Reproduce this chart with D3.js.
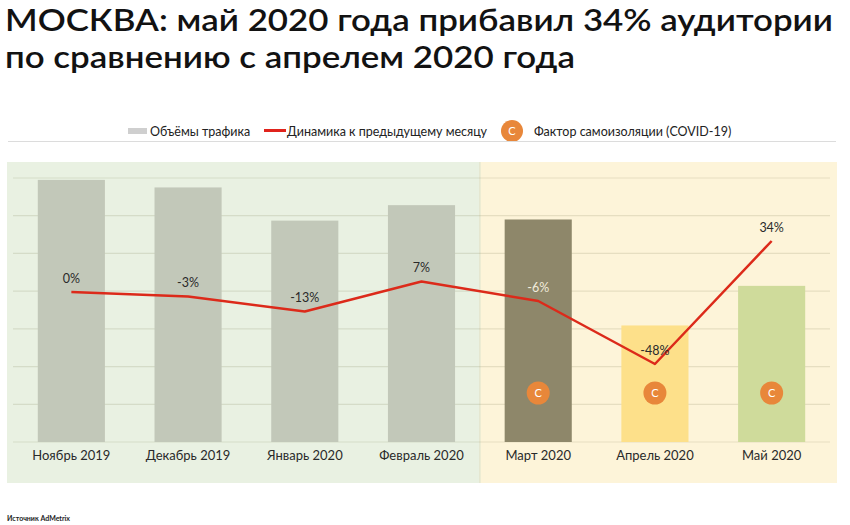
<!DOCTYPE html>
<html>
<head>
<meta charset="utf-8">
<script src="https://cdn.jsdelivr.net/npm/d3@7"></script>
<style>
  body { margin: 0; background: #fff; }
  svg { display: block; font-family: Lato, "Noto Sans", sans-serif; }
</style>
</head>
<body>
<div id="chart"></div>
<script>
// data
const months = ["Ноябрь 2019", "Декабрь 2019", "Январь 2020", "Февраль 2020", "Март 2020", "Апрель 2020", "Май 2020"]
const traffic = [6.95, 6.75, 5.87, 6.28, 5.90, 3.09, 4.14]   // объём трафика, условные единицы
const change = [0, -3, -13, 7, -6, -48, 34]                 // % к предыдущему месяцу
const covid = [false, false, false, false, true, true, true]
const gridTicks = [0, 1, 2, 3, 4, 5, 6, 7]

const barColors = ["#c2c8b9", "#c2c8b9", "#c2c8b9", "#c2c8b9", "#8e876a", "#fde08a", "#cfdb9b"]

const width = 850
const height = 525
const plot = {left: 13, right: 830, top: 178, bottom: 442}

const svg = d3.select("#chart").append("svg")
    .attr("width", width)
    .attr("height", height)

const x = d3.scaleBand()
    .domain(months)
    .range([plot.left, plot.right])
    .paddingInner(0.425)
    .paddingOuter(0.2125)

const yBar = d3.scaleLinear().domain([0, 7]).range([plot.bottom, plot.top])
const yPct = d3.scaleLinear().domain([-100, 100]).range([plot.bottom, plot.bottom - 300])

// title
const title = svg.append("g").attr("class", "title")
    .style("font-size", "31px")
    .style("font-weight", 600)
    .attr("fill", "#121212")
title.append("text").attr("x", 5).attr("y", 31)
    .attr("textLength", 828).attr("lengthAdjust", "spacingAndGlyphs")
    .text("МОСКВА: май 2020 года прибавил 34% аудитории")
title.append("text").attr("x", 5).attr("y", 68)
    .attr("textLength", 570).attr("lengthAdjust", "spacingAndGlyphs")
    .text("по сравнению с апрелем 2020 года")

// legend
const legend = svg.append("g").attr("class", "legend")
    .style("font-size", "12.5px").attr("fill", "#222")
legend.append("rect").attr("x", 128).attr("y", 128).attr("width", 19).attr("height", 6).attr("fill", "#cfcfcf")
legend.append("text").attr("x", 150).attr("y", 135.5).text("Объёмы трафика")
legend.append("line").attr("x1", 264).attr("x2", 286).attr("y1", 130.5).attr("y2", 130.5)
    .attr("stroke", "#e0231c").attr("stroke-width", 3)
legend.append("text").attr("x", 287).attr("y", 135.5).text("Динамика к предыдущему месяцу")
legend.append("circle").attr("cx", 512).attr("cy", 131).attr("r", 11).attr("fill", "#e8873a")
legend.append("text").attr("x", 512).attr("y", 135).attr("text-anchor", "middle")
    .attr("fill", "#fff").style("font-size", "11px").text("C")
legend.append("text").attr("x", 534).attr("y", 135.5).text("Фактор самоизоляции (COVID-19)")

svg.append("line").attr("x1", 8).attr("x2", 836).attr("y1", 141.5).attr("y2", 141.5)
    .attr("stroke", "#dcdcdc").attr("stroke-width", 1)

// background panels: before / during self-isolation
const firstCovid = covid.indexOf(true)
const splitX = x(months[firstCovid]) - x.step() * x.paddingInner() / 2
svg.append("rect").attr("x", plot.left - 6).attr("y", 162)
    .attr("width", splitX - plot.left + 6).attr("height", 321).attr("fill", "#e9f1e2")
svg.append("rect").attr("x", splitX).attr("y", 162)
    .attr("width", plot.right + 7 - splitX).attr("height", 321).attr("fill", "#fdf4d9")
svg.append("line").attr("x1", splitX).attr("x2", splitX).attr("y1", 162).attr("y2", 483)
    .attr("stroke", "#e3e6cf").attr("stroke-width", 1.5)

// gridlines
svg.append("g").attr("class", "grid")
    .selectAll("line")
    .data(gridTicks)
    .enter()
    .append("line")
    .attr("x1", plot.left).attr("x2", plot.right)
    .attr("y1", d => yBar(d)).attr("y2", d => yBar(d))
    .attr("stroke", "rgba(110,110,70,0.16)")
    .attr("stroke-width", 1.2)

// bars
svg.append("g").attr("class", "bars")
    .selectAll("rect")
    .data(traffic)
    .enter()
    .append("rect")
    .attr("x", (d, i) => x(months[i]))
    .attr("width", x.bandwidth())
    .attr("y", d => yBar(d))
    .attr("height", d => yBar(0) - yBar(d))
    .attr("fill", (d, i) => barColors[i])

// covid markers
const marks = svg.append("g").attr("class", "covid")
    .selectAll("g")
    .data(months.filter((m, i) => covid[i]))
    .enter()
    .append("g")
    .attr("transform", d => "translate(" + (x(d) + x.bandwidth() / 2) + "," + 393 + ")")
marks.append("circle").attr("r", 11.5).attr("fill", "#e8873a")
marks.append("text").attr("y", 4).attr("text-anchor", "middle")
    .attr("fill", "#fff").style("font-size", "11px").text("C")

// line
const line = d3.line()
    .x((d, i) => x(months[i]) + x.bandwidth() / 2)
    .y(d => yPct(d))

svg.append("path")
    .datum(change)
    .attr("d", line)
    .attr("fill", "none")
    .attr("stroke", "#dc2a1a")
    .attr("stroke-width", 2.5)
    .attr("stroke-linejoin", "round")

svg.append("g").attr("class", "labels")
    .selectAll("text")
    .data(change)
    .enter()
    .append("text")
    .attr("x", (d, i) => x(months[i]) + x.bandwidth() / 2)
    .attr("y", d => yPct(d) - 9.5)
    .attr("text-anchor", "middle")
    .style("font-size", "12.5px")
    .attr("fill", (d, i) => i === 4 ? "#f1ecdc" : "#2a2a2a")
    .text(d => d + "%")

// x axis
const xAxis = svg.append("g")
    .attr("transform", "translate(0," + 451 + ")")
    .call(d3.axisBottom(x).tickSize(0).tickPadding(0))
xAxis.select(".domain").remove()
xAxis.selectAll("text")
    .attr("dy", "0.71em")
    .style("font-family", "Lato, 'Noto Sans', sans-serif")
    .style("font-size", "13px")
    .attr("fill", "#2a2a2a")

// source
svg.append("text").attr("x", 7).attr("y", 521)
    .style("font-size", "7px").style("font-weight", 700).attr("fill", "#222")
    .text("Источник AdMetrix")
</script>
</body>
</html>
